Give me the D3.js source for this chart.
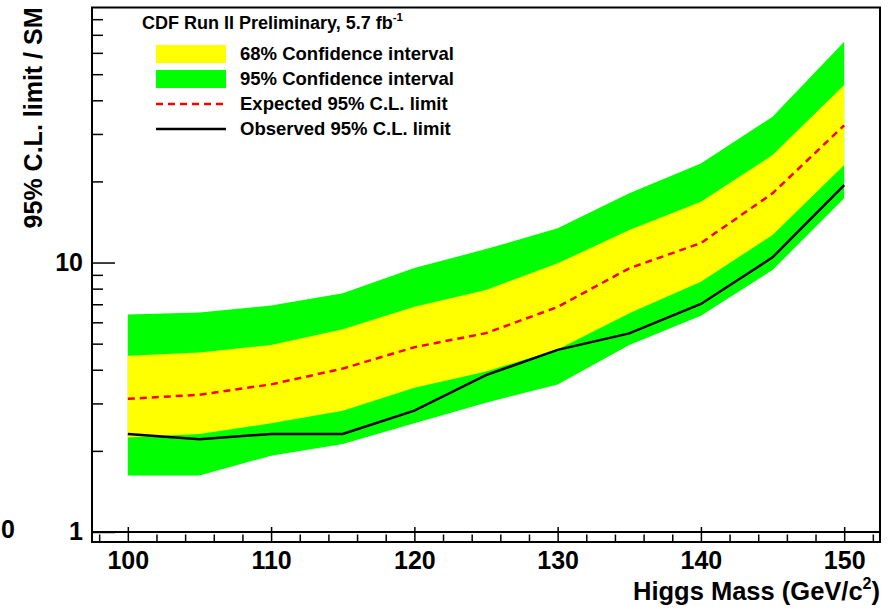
<!DOCTYPE html>
<html>
<head>
<meta charset="utf-8">
<script src="https://cdn.jsdelivr.net/npm/d3@7"></script>
<style>
  body { margin: 0; background: #fff; }
  text { font-family: "Liberation Sans", Arial, Helvetica, sans-serif; font-weight: bold; }
</style>
</head>
<body>
<div id="chart"></div>
<script>
// Higgs mass points (GeV/c^2)
var masses = [100, 105, 110, 115, 120, 125, 130, 135, 140, 145, 150];
// limits / SM
var observed = [2.31, 2.21, 2.31, 2.31, 2.82, 3.82, 4.74, 5.46, 7.02, 10.45, 19.39];
var expected = [3.12, 3.23, 3.53, 4.04, 4.85, 5.47, 6.84, 9.52, 11.81, 18.06, 32.29];
var minus1s = [2.24, 2.31, 2.53, 2.82, 3.43, 3.94, 4.76, 6.48, 8.49, 12.65, 23.00];
var plus1s = [4.51, 4.64, 4.94, 5.65, 6.85, 7.91, 9.93, 13.20, 16.81, 25.05, 45.56];
var minus2s = [1.62, 1.62, 1.92, 2.12, 2.53, 3.02, 3.53, 4.94, 6.35, 9.38, 17.31];
var plus2s = [6.42, 6.53, 6.92, 7.69, 9.54, 11.22, 13.39, 18.06, 23.30, 34.75, 65.96];

// tick values
var xMajor = [100, 110, 120, 130, 140, 150];
var xMinor = [98, 102, 104, 106, 108, 112, 114, 116, 118, 122, 124, 126, 128, 132, 134, 136, 138, 142, 144, 146, 148, 152];
var yMajor = [1, 10];
var yMinor = [2, 3, 4, 5, 6, 7, 8, 9, 20, 30, 40, 50, 60, 70, 80];

var legendTitle = "CDF Run II Preliminary, 5.7 fb";
var legendLabels = ["68% Confidence interval", "95% Confidence interval", "Expected 95% C.L. limit", "Observed 95% C.L. limit"];

var W = 890, H = 610;
var frameL = 92, frameR = 880, frameT = 7.5, frameB = 542;

var svg = d3.select("#chart").append("svg").attr("width", W).attr("height", H);

var x = d3.scaleLinear().domain([97.5, 152.5]).range([frameL, frameR]);
var y = d3.scaleLog().domain([0.918, 88.4]).range([frameB, frameT]);

var pts = masses.map(function (m, i) {
  return { m: m, obs: observed[i], exp: expected[i], lo1: minus1s[i], hi1: plus1s[i], lo2: minus2s[i], hi2: plus2s[i] };
});

// bands
var band2 = d3.area().x(function (d) { return x(d.m); }).y0(function (d) { return y(d.lo2); }).y1(function (d) { return y(d.hi2); });
var band1 = d3.area().x(function (d) { return x(d.m); }).y0(function (d) { return y(d.lo1); }).y1(function (d) { return y(d.hi1); });
svg.append("path").datum(pts).attr("d", band2).attr("fill", "#00ff00");
svg.append("path").datum(pts).attr("d", band1).attr("fill", "#ffff00");

// expected & observed
var expLine = d3.line().x(function (d) { return x(d.m); }).y(function (d) { return y(d.exp); });
var obsLine = d3.line().x(function (d) { return x(d.m); }).y(function (d) { return y(d.obs); });
svg.append("path").datum(pts).attr("d", expLine).attr("fill", "none").attr("stroke", "#ff0000").attr("stroke-width", 2.5).attr("stroke-dasharray", "7,5");
svg.append("path").datum(pts).attr("d", obsLine).attr("fill", "none").attr("stroke", "#000").attr("stroke-width", 2.5);

// line at 1
svg.append("line").attr("x1", frameL).attr("x2", frameR).attr("y1", y(1)).attr("y2", y(1)).attr("stroke", "#000").attr("stroke-width", 2);

// x axis (ticks inside the frame)
var gx = svg.append("g").attr("transform", "translate(0," + frameB + ")");
gx.call(d3.axisBottom(x).tickValues(xMajor).tickSizeInner(-15).tickSizeOuter(0).tickPadding(9).tickFormat(d3.format("d")));
gx.append("g").call(d3.axisBottom(x).tickValues(xMinor).tickSizeInner(-7.5).tickSizeOuter(0).tickFormat(""));
gx.selectAll(".domain").remove();
gx.selectAll("line").attr("stroke", "#000").attr("stroke-width", 1.5);
gx.selectAll("text").attr("font-size", 25).attr("fill", "#000").attr("font-family", "Liberation Sans, Arial, sans-serif").attr("font-weight", "bold");

// y axis
var gy = svg.append("g").attr("transform", "translate(" + frameL + ",0)");
gy.call(d3.axisLeft(y).tickValues(yMajor).tickSizeInner(-23).tickSizeOuter(0).tickPadding(9).tickFormat(d3.format("d")));
gy.append("g").call(d3.axisLeft(y).tickValues(yMinor).tickSizeInner(-11).tickSizeOuter(0).tickFormat(""));
gy.selectAll(".domain").remove();
gy.selectAll("line").attr("stroke", "#000").attr("stroke-width", 1.5);
gy.selectAll("text").attr("font-size", 25).attr("fill", "#000").attr("font-family", "Liberation Sans, Arial, sans-serif").attr("font-weight", "bold");

// frame
svg.append("rect").attr("x", frameL).attr("y", frameT).attr("width", frameR - frameL).attr("height", frameB - frameT)
  .attr("fill", "none").attr("stroke", "#000").attr("stroke-width", 2);

// axis titles
var xt = svg.append("text").attr("x", frameR).attr("y", 600).attr("text-anchor", "end").attr("font-size", 25.5).text("Higgs Mass (GeV/c");
xt.append("tspan").attr("font-size", 16).attr("dy", -11).text("2");
xt.append("tspan").attr("dy", 11).text(")");

svg.append("text").attr("transform", "translate(42," + frameT + ") rotate(-90)").attr("text-anchor", "end")
  .attr("font-size", 25).text("95% C.L. limit / SM");

// stray label at the left edge
svg.append("text").attr("x", 1).attr("y", 538).attr("font-size", 25).text("0");

// legend
var lt = svg.append("text").attr("x", 142).attr("y", 29).attr("font-size", 18).text(legendTitle);
lt.append("tspan").attr("font-size", 11.5).attr("dy", -8).text("-1");

var rowY = [54, 79, 104, 129];
var lg = svg.append("g");
lg.append("rect").attr("x", 156).attr("y", rowY[0] - 9).attr("width", 70).attr("height", 18).attr("fill", "#ffff00");
lg.append("rect").attr("x", 156).attr("y", rowY[1] - 9).attr("width", 70).attr("height", 18).attr("fill", "#00ff00");
lg.append("line").attr("x1", 156).attr("x2", 226).attr("y1", rowY[2]).attr("y2", rowY[2]).attr("stroke", "#ff0000").attr("stroke-width", 2.5).attr("stroke-dasharray", "7,5");
lg.append("line").attr("x1", 156).attr("x2", 226).attr("y1", rowY[3]).attr("y2", rowY[3]).attr("stroke", "#000").attr("stroke-width", 2.5);
lg.selectAll(".lab").data(legendLabels).enter().append("text").attr("class", "lab")
  .attr("x", 240).attr("y", function (d, i) { return rowY[i]; }).attr("dy", "0.35em").attr("font-size", 18.5).text(function (d) { return d; });
</script>
</body>
</html>
